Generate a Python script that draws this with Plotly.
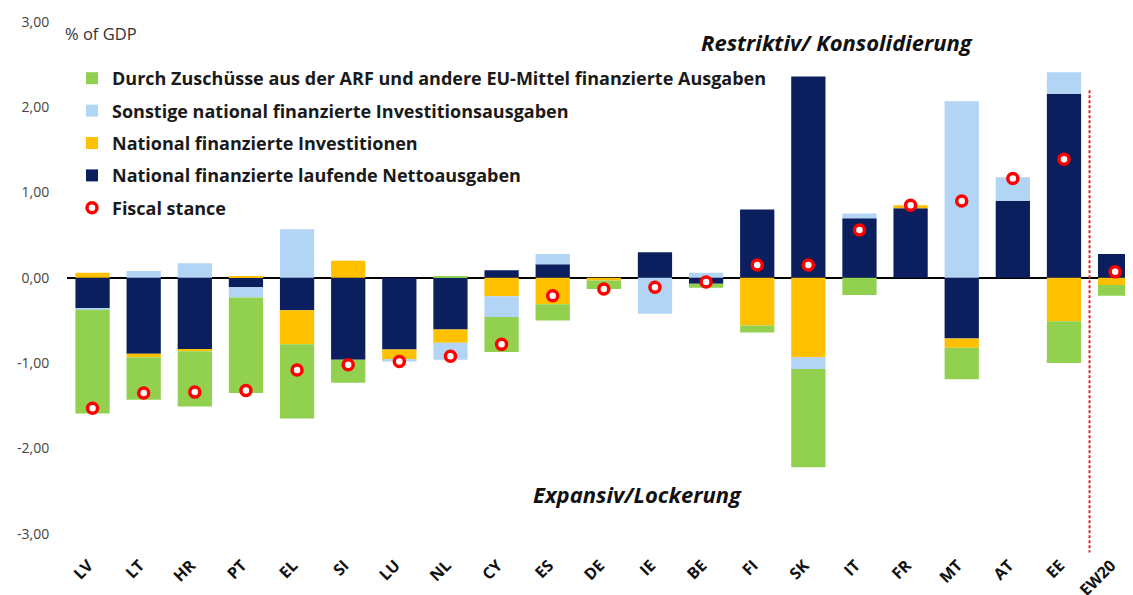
import plotly.graph_objects as go

countries = ["LV", "LT", "HR", "PT", "EL", "SI", "LU", "NL", "CY", "ES", "DE",
             "IE", "BE", "FI", "SK", "IT", "FR", "MT", "AT", "EE", "EW20"]

# National finanzierte laufende Nettoausgaben (navy)
navy = [-0.36, -0.89, -0.84, -0.11, -0.38, -0.96, -0.84, -0.605, 0.09, 0.16, 0.0,
        0.30, -0.07, 0.80, 2.36, 0.70, 0.815, -0.71, 0.905, 2.16, 0.28]
# National finanzierte Investitionen (yellow)
yellow = [0.06, -0.04, -0.02, 0.02, -0.40, 0.20, -0.12, -0.155, -0.215, -0.31, -0.03,
          0.0, 0.0, -0.56, -0.93, 0.0, 0.035, -0.11, 0.0, -0.51, -0.085]
# Sonstige national finanzierte Investitionsausgaben (light blue)
lightblue = [-0.015, 0.08, 0.17, -0.12, 0.57, 0.0, -0.02, -0.20, -0.245, 0.12, 0.0,
             -0.42, 0.06, 0.0, -0.14, 0.055, 0.0, 2.07, 0.275, 0.25, 0.0]
# Durch Zuschüsse aus der ARF und andere EU-Mittel finanzierte Ausgaben (green)
green = [-1.215, -0.50, -0.65, -1.12, -0.87, -0.27, 0.0, 0.02, -0.41, -0.19, -0.10,
         0.0, -0.045, -0.08, -1.15, -0.20, 0.0, -0.37, 0.0, -0.49, -0.125]
# Fiscal stance
stance = [-1.53, -1.35, -1.34, -1.32, -1.08, -1.02, -0.98, -0.92, -0.78, -0.21, -0.13,
          -0.11, -0.05, 0.15, 0.15, 0.56, 0.85, 0.90, 1.165, 1.39, 0.07]

ytick_vals = [3, 2, 1, 0, -1, -2, -3]
ytick_text = ["3,00", "2,00", "1,00", "0,00", "-1,00", "-2,00", "-3,00"]

names = {
    "green": "Durch Zuschüsse aus der ARF und andere EU-Mittel finanzierte Ausgaben",
    "lightblue": "Sonstige national finanzierte Investitionsausgaben",
    "yellow": "National finanzierte Investitionen",
    "navy": "National finanzierte laufende Nettoausgaben",
    "stance": "Fiscal stance",
}

colors = {"navy": "#0B1F5E", "yellow": "#FFC000", "lightblue": "#B3D5F5", "green": "#92D050"}

fig = go.Figure()
for key, vals, rank in [("navy", navy, 4), ("yellow", yellow, 3),
                        ("lightblue", lightblue, 2), ("green", green, 1)]:
    fig.add_trace(go.Bar(
        x=countries, y=vals, name="<b>" + names[key] + "</b>",
        marker=dict(color=colors[key], line=dict(width=0)),
        legendrank=rank, legendgroup=key, width=0.67,
    ))

fig.add_trace(go.Scatter(
    x=countries, y=stance, mode="markers", name="<b>" + names["stance"] + "</b>",
    marker=dict(symbol="circle", size=10, color="white",
                line=dict(color="#FF0000", width=3.5)),
    legendrank=5, legendgroup="stance",
))

fig.add_shape(type="line", xref="x", yref="y", x0=19.5, x1=19.5, y0=2.2, y1=-3.22,
              line=dict(color="#E0262A", width=2, dash="3px,2px"))

# page body has an 8px default margin: the figure is offset by 8px right and down
PW, PH = 1125, 587
L, T, R, B = 59, 14, 0, 40
plot_w = PW - L - R
plot_h = PH - T - B


def px_x(sx):
    return (sx - 8 - L) / plot_w


def px_y(sy):
    return 1 - (sy - 8 - T) / plot_h


fig.add_annotation(text="% of GDP", xref="paper", yref="y", x=px_x(63), y=2.86,
                   xanchor="left", yanchor="middle",
                   showarrow=False, font=dict(size=16.5, color="#333333"))
fig.add_annotation(text="<b><i>Restriktiv/ Konsolidierung</i></b>", xref="paper", yref="y",
                   x=px_x(837), y=2.77, xanchor="center", yanchor="middle",
                   showarrow=False, font=dict(size=22, color="#111111"))
fig.add_annotation(text="<b><i>Expansiv/Lockerung</i></b>", xref="paper", yref="y",
                   x=px_x(637), y=-2.53, xanchor="center", yanchor="middle",
                   showarrow=False, font=dict(size=22, color="#111111"))

fig.update_layout(
    width=PW, height=PH,
    margin=dict(l=L, r=R, t=T, b=B),
    barmode="relative", bargap=0.33,
    paper_bgcolor="white", plot_bgcolor="white",
    font=dict(family="'Open Sans', Lato, sans-serif", color="#111111"),
    showlegend=True,
    legend=dict(
        xref="paper", yref="paper", x=px_x(72), y=px_y(60),
        xanchor="left", yanchor="top",
        traceorder="grouped", tracegroupgap=6,
        font=dict(size=18, color="#1a1a1a"),
        bgcolor="rgba(0,0,0,0)", itemwidth=30,
    ),
    xaxis=dict(
        type="category", range=[-0.5, 20.35], showgrid=False, showline=False,
        automargin=False,
        tickangle=-45, tickfont=dict(size=16, color="#111111"),
        ticklabelstandoff=-3, ticklabelshift=-4,
        tickprefix="<b>", ticksuffix="</b>",
    ),
    yaxis=dict(
        range=[-3.25, 3.0], showgrid=False, showline=False,
        automargin=False,
        tickvals=ytick_vals, ticktext=ytick_text,
        ticks="outside", ticklen=14, tickcolor="rgba(0,0,0,0)",
        tickfont=dict(size=14, color="#444444"),
        zeroline=True, zerolinecolor="#000000", zerolinewidth=2,
    ),
)

fig.write_html("out.html")
